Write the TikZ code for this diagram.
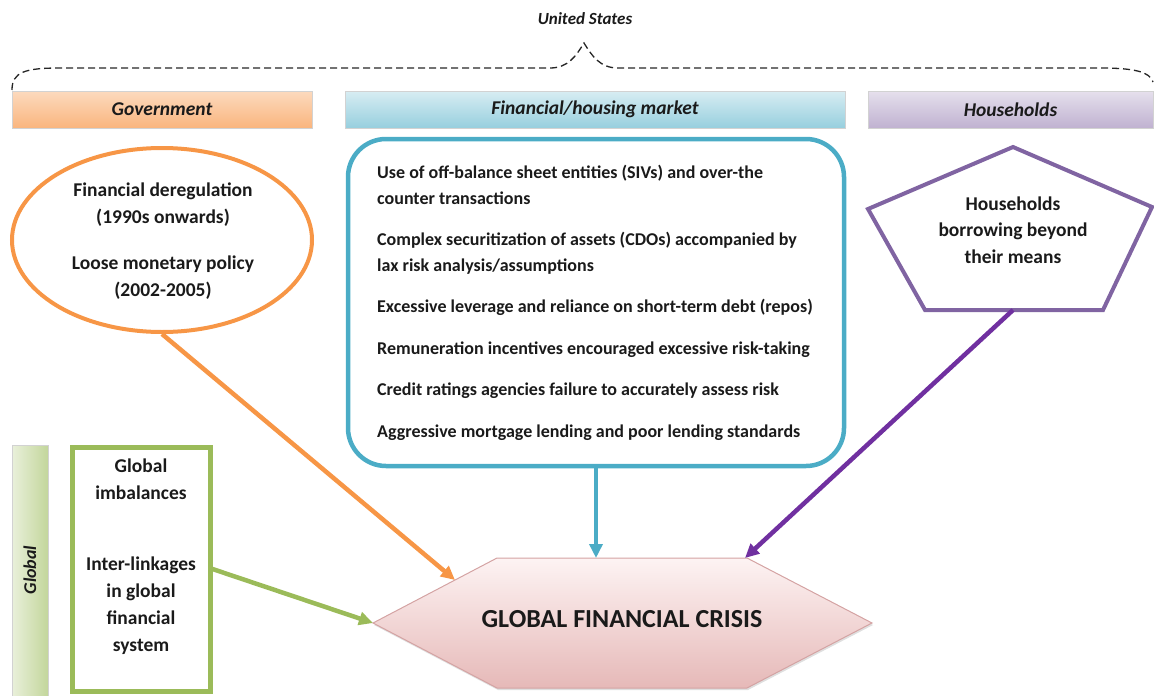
\documentclass[tikz,border=0pt]{standalone}
\usepackage{fontspec}
\setmainfont{Carlito}
\usetikzlibrary{shapes.geometric,arrows.meta,shadows}
\definecolor{orangeC}{HTML}{F79646}
\definecolor{blueC}{HTML}{4BACC6}
\definecolor{purpleC}{HTML}{8064A2}
\definecolor{purpleA}{HTML}{7030A0}
\definecolor{greenC}{HTML}{9BBB59}
\definecolor{txt}{HTML}{1A1A1A}
\definecolor{hexline}{HTML}{D4A3A3}
\definecolor{hextop}{HTML}{FDF3F3}
\definecolor{hexbot}{HTML}{E6B9B8}
\begin{document}
\begin{tikzpicture}[x=1pt,y=-1pt,
  every node/.style={text=txt,font=\bfseries},
  hdr/.style={draw=gray!35, line width=0.6pt, minimum height=37pt, inner sep=0pt,
     font=\bfseries\itshape\fontsize{19.5}{22}\selectfont},
  arr/.style={line width=4.5pt, -{Triangle[length=14pt,width=13pt]}},
  bodytxt/.style={font=\bfseries\fontsize{18}{25.5}\selectfont, inner sep=0pt},
  bigtxt/.style={font=\bfseries\fontsize{19.5}{26.5}\selectfont, inner sep=0pt, align=center}
]
\useasboundingbox (0,0) rectangle (1154,696);
% United States brace
\node[font=\bfseries\itshape\fontsize{17}{19}\selectfont] (us) at (585,19) {United States};
\draw[line width=1.3pt, dash pattern=on 7pt off 4pt, black!85]
  (12,90) .. controls (12,72) and (25,68) .. (60,68) -- (550,68)
  .. controls (568,68) and (576,56) .. (584,43)
  .. controls (592,56) and (600,68) .. (618,68) -- (1100,68)
  .. controls (1135,68) and (1150,72) .. (1153,82);
% header bars
\node[hdr, top color=orangeC!35, bottom color=orangeC!70, minimum width=300pt] (hgov) at (162,109.5) {\raisebox{-1pt}{Government}};
\node[hdr, top color=blueC!22, bottom color=blueC!58, minimum width=500pt] (hfin) at (595,109.5) {\raisebox{-1pt}{Financial/housing market}};
\node[hdr, top color=purpleC!20, bottom color=purpleC!50, minimum width=285pt] (hhh) at (1010.5,109.5) {\raisebox{-1pt}{Households}};
% government ellipse
\node[draw=orangeC, line width=4pt, ellipse, minimum width=300pt, minimum height=184pt, inner sep=0pt] (gov) at (162,240) {};
\node[bigtxt] (govtxt) at (163,241) {Financial deregulation\\(1990s onwards)\\[20pt]Loose monetary policy\\(2002-2005)};
% financial box
\node[draw=blueC, line width=4.5pt, rounded corners=38pt, minimum width=496pt, minimum height=327pt, inner sep=0pt] (fin) at (596,302.5) {};
\node[bodytxt, anchor=west, align=left] (fintxt) at (377,303) {Use of off-balance sheet entities (SIVs) and over-the\\counter transactions\\[16pt]Complex securitization of assets (CDOs) accompanied by\\lax risk analysis/assumptions\\[16pt]Excessive leverage and reliance on short-term debt (repos)\\[16pt]Remuneration incentives encouraged excessive risk-taking\\[16pt]Credit ratings agencies failure to accurately assess risk\\[16pt]Aggressive mortgage lending and poor lending standards};
% households pentagon
\draw[draw=purpleC, line width=4pt, line join=miter]
  (1013,147) -- (1152,207) -- (1103,310) -- (925,310) -- (868,209) -- cycle;
\coordinate (hhbot) at (1013,310);
\node[bigtxt] (hh) at (1013,230) {Households\\borrowing beyond\\their means};
% global side bar and box
\node[draw=gray!35, line width=0.6pt, left color=greenC!22, right color=greenC!60, minimum width=36pt, minimum height=252pt, inner sep=0pt] (gbar) at (30,571) {};
\node[rotate=90, font=\bfseries\itshape\fontsize{18}{20}\selectfont] (gbartxt) at (30,570) {Global};
\node[draw=greenC, line width=5pt, minimum width=138pt, minimum height=244pt, inner sep=0pt] (glob) at (141,569) {};
\node[bigtxt] (globa) at (141,479) {Global\\imbalances};
\node[bigtxt, font=\bfseries\fontsize{19.5}{27}\selectfont] (globb) at (141,606) {Inter-linkages\\in global\\financial\\system};
% crisis hexagon
\draw[draw=hexline, line width=1pt, top color=hextop, bottom color=hexbot,
      drop shadow={opacity=0.25, shadow xshift=1pt, shadow yshift=-2pt}]
  (373,623) -- (497,558) -- (747,558) -- (872,623) -- (747,688) -- (497,688) -- cycle;
\node[font=\bfseries\fontsize{26}{30}\selectfont] (gfc) at (622,619) {GLOBAL FINANCIAL CRISIS};
\coordinate (gfcA) at (455,580);
\coordinate (gfcB) at (596,558);
\coordinate (gfcC) at (745,558);
\coordinate (gfcL) at (373,623);
% arrows
\draw[arr, orangeC] (gov.south) -- (gfcA);
\draw[arr, blueC] (fin.south) -- (gfcB);
\draw[arr, purpleA] (hhbot) -- (gfcC);
\draw[arr, greenC] (glob.east) -- (gfcL);
\end{tikzpicture}
\end{document}
